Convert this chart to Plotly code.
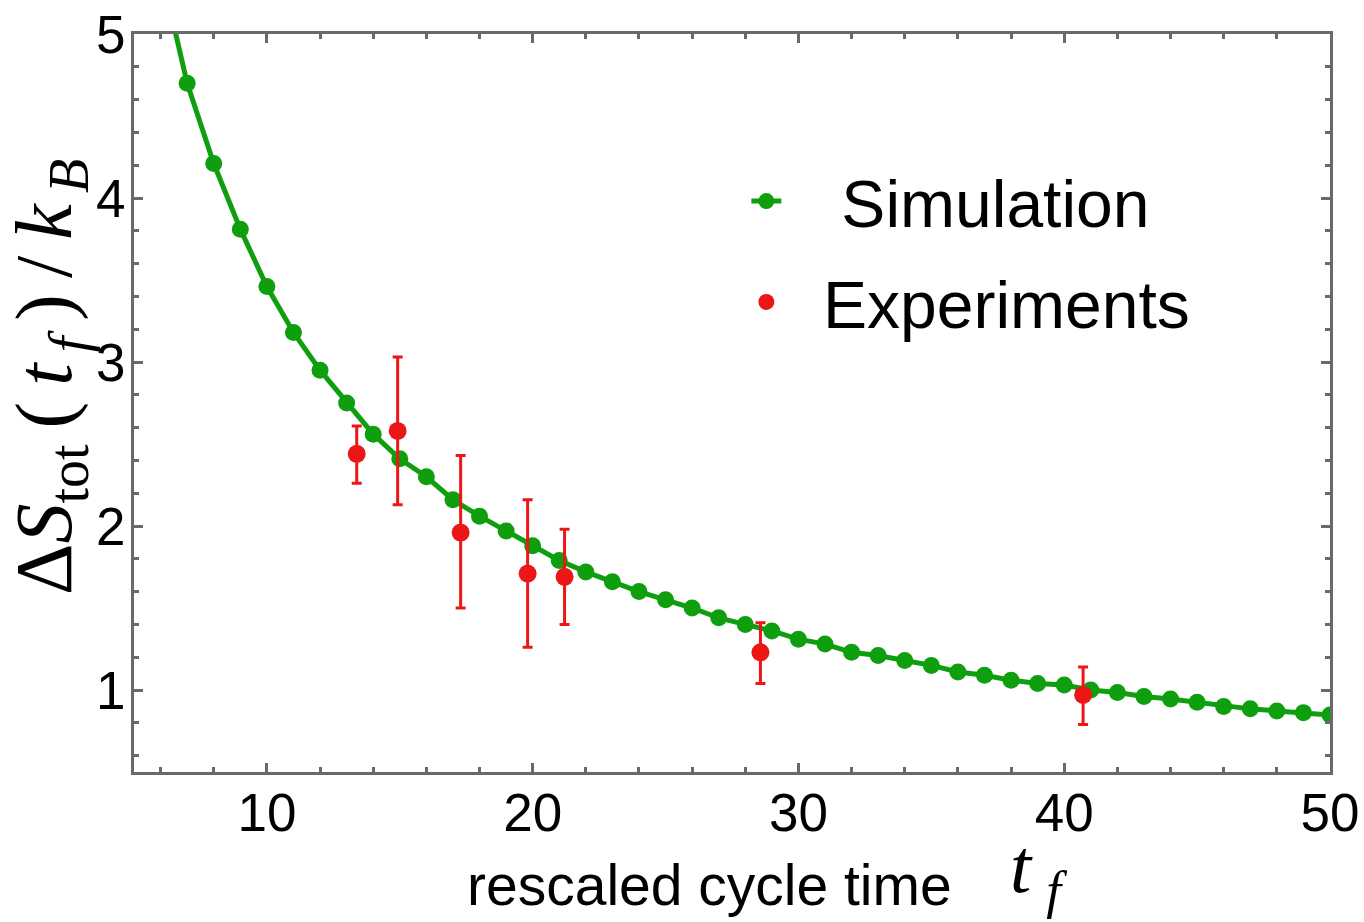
import plotly.graph_objects as go

# ---- data ----
sim_x = [6, 7, 8, 9, 10, 11, 12, 13, 14, 15, 16, 17, 18, 19, 20, 21, 22, 23, 24, 25, 26, 27, 28,
         29, 30, 31, 32, 33, 34, 35, 36, 37, 38, 39, 40, 41, 42, 43, 44, 45, 46, 47, 48, 49, 50]
sim_y = [5.40, 4.70, 4.21, 3.81, 3.46, 3.18, 2.95, 2.75, 2.56, 2.41, 2.30, 2.16, 2.06, 1.97, 1.88,
         1.79, 1.72, 1.66, 1.60, 1.55, 1.50, 1.44, 1.40, 1.36, 1.31, 1.28, 1.23, 1.21, 1.18, 1.15,
         1.11, 1.09, 1.06, 1.04, 1.03, 1.00, 0.985, 0.96, 0.945, 0.925, 0.90, 0.885, 0.872, 0.862, 0.848]

exp_x = [13.38, 14.92, 17.29, 19.81, 21.20, 28.57, 40.71]
exp_y = [2.44, 2.58, 1.96, 1.71, 1.69, 1.23, 0.97]
exp_err_plus = [0.17, 0.45, 0.47, 0.45, 0.29, 0.18, 0.17]
exp_err_minus = [0.18, 0.45, 0.46, 0.45, 0.29, 0.19, 0.18]

x_ticks = [10, 20, 30, 40, 50]
y_ticks = [1, 2, 3, 4, 5]

GREEN = "rgb(14,158,14)"
RED = "rgb(236,22,22)"
GRAY = "rgb(105,105,105)"
NB = "\u00a0"

fig = go.Figure()

fig.add_trace(go.Scatter(
    x=sim_x, y=sim_y, mode="lines+markers", name=NB * 3 + "Simulation",
    legendgroup="sim",
    line=dict(color=GREEN, width=5),
    marker=dict(color=GREEN, size=17),
))

fig.add_trace(go.Scatter(
    x=exp_x, y=exp_y, mode="markers", name=NB * 2 + "Experiments",
    legendgroup="exp",
    marker=dict(color=RED, size=18),
    error_y=dict(type="data", symmetric=False, array=exp_err_plus, arrayminus=exp_err_minus,
                 color=RED, thickness=3, width=5),
))

fig.update_layout(
    width=1364, height=922,
    margin=dict(l=134, r=34, t=34, b=150),
    paper_bgcolor="white", plot_bgcolor="white",
    font=dict(family="Liberation Sans, Arial, sans-serif", color="black"),
    showlegend=True,
    legend=dict(
        x=0.512, y=0.8405, xanchor="left", yanchor="top",
        font=dict(size=66, family="Liberation Sans, Arial, sans-serif", color="black"),
        bgcolor="rgba(0,0,0,0)", borderwidth=0,
        tracegroupgap=12, itemwidth=30,
    ),
    xaxis=dict(
        range=[5, 50], tickvals=x_ticks, ticktext=[str(v) for v in x_ticks],
        automargin=False,
        showline=True, linecolor=GRAY, linewidth=3, mirror="allticks",
        ticks="inside", ticklen=9, tickwidth=3, tickcolor=GRAY,
        minor=dict(dtick=2, tick0=0, ticks="inside", ticklen=5, tickwidth=2.5, tickcolor=GRAY),
        showgrid=False, zeroline=False,
        tickfont=dict(size=53, color="black"),
        ticklabelstandoff=-8,
    ),
    yaxis=dict(
        range=[0.5, 5], tickvals=y_ticks, ticktext=[str(v) for v in y_ticks],
        automargin=False,
        showline=True, linecolor=GRAY, linewidth=3, mirror="allticks",
        ticks="inside", ticklen=9, tickwidth=3, tickcolor=GRAY,
        minor=dict(dtick=0.2, tick0=0, ticks="inside", ticklen=5, tickwidth=2.5, tickcolor=GRAY),
        showgrid=False, zeroline=False,
        tickfont=dict(size=53, color="black"),
        ticklabelstandoff=-5,
    ),
)

# x-axis title: text part and math part
fig.add_annotation(
    text="rescaled cycle time", xref="paper", yref="paper",
    x=(709 - 134) / 1196, y=-(885 - 772) / 738, xanchor="center", yanchor="middle",
    showarrow=False, font=dict(size=57, family="Liberation Sans, Arial, sans-serif", color="black"),
)
fig.add_annotation(
    text="<i>t</i>\u2009<sub><i>f</i></sub>", xref="paper", yref="paper",
    x=(1038 - 134) / 1196, y=-(872 - 772) / 738, xanchor="center", yanchor="middle",
    showarrow=False, font=dict(size=76, family="Liberation Serif, Times New Roman, serif", color="black"),
)

# y-axis title
TS = "\u2009"
ytitle = ("\u0394<i>S</i><sub>tot</sub>" + TS + "(" + TS + "<i>t</i><sub>" + TS + "<i>f</i></sub>"
          + TS + ")" + TS + "/" + TS + "<i>k</i><sub>" + TS + "<i>B</i></sub>")
fig.add_annotation(
    text=ytitle, xref="paper", yref="paper", textangle=-90,
    x=-(134 - 50) / 1196, y=(772 - 377) / 738, xanchor="center", yanchor="middle",
    showarrow=False, font=dict(size=80, family="Liberation Serif, Times New Roman, serif", color="black"),
)

fig.write_html("out.html")
